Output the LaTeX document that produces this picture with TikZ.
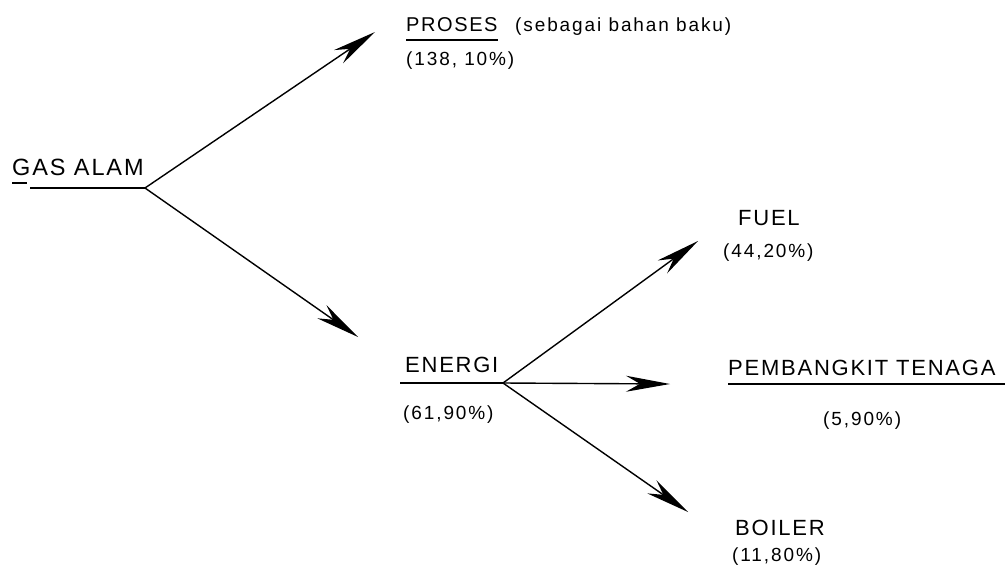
\documentclass[tikz,border=0pt]{standalone}
\usepackage{fontspec}
\usetikzlibrary{arrows.meta}
\newfontfamily\labA[LetterSpace=8]{Liberation Sans}
\newfontfamily\labB[LetterSpace=10]{Liberation Sans}
\begin{document}
\begin{tikzpicture}[x=1pt,y=-1pt,
  caplab/.style={anchor=base west,inner sep=0pt,font=\labA\fontsize{22}{24}\selectfont},
  capsmall/.style={anchor=base west,inner sep=0pt,font=\labA\fontsize{20}{22}\selectfont},
  numlab/.style={anchor=base west,inner sep=0pt,font=\labB\fontsize{19}{21}\selectfont},
  uline/.style={line width=1.5pt},
  flow/.style={line width=1.4pt,-{Stealth[length=44pt,width=16pt,inset=14pt]}}]
\useasboundingbox (0,0) rectangle (1008,567);
% texts
\node[caplab,font=\labA\fontsize{23.5}{25}\selectfont] (gas) at (12,175) {GAS ALAM};
\node[capsmall] (proses) at (406,32) {PROSES};
\node[numlab] (bahan) at (515,32) {(sebagai bahan baku)};
\node[numlab] (prosesv) at (406,66) {(138, 10\%)};
\node[caplab] (energi) at (405,372) {ENERGI};
\node[numlab] (energiv) at (403,419) {(61,90\%)};
\node[caplab] (fuel) at (738,225) {FUEL};
\node[numlab] (fuelv) at (723,257) {(44,20\%)};
\node[caplab] (pemb) at (728,375) {PEMBANGKIT TENAGA};
\node[numlab] (pembv) at (823,425) {(5,90\%)};
\node[caplab] (boiler) at (735,535) {BOILER};
\node[numlab] (boilerv) at (732,561) {(11,80\%)};
% branch points and arrow tips
\coordinate (gasB) at (145,188);
\coordinate (enB) at (503,383);
\coordinate (tProses) at (375,32);
\coordinate (tEnergi) at (358,337);
\coordinate (tFuel) at (698,241);
\coordinate (tPemb) at (670,384);
\coordinate (tBoiler) at (688,512);
% underlines
\draw[uline] (12,183) -- (27,183);
\draw[uline] (30,188) -- (gasB);
\draw[uline] (406,40) -- (498,40);
\draw[uline] (400,383) -- (enB);
\draw[uline] (728,384) -- (1005,384);
% connectors
\draw[flow] (gasB) -- (tProses);
\draw[flow] (gasB) -- (tEnergi);
\draw[flow] (enB) -- (tFuel);
\draw[flow] (enB) -- (tPemb);
\draw[flow] (enB) -- (tBoiler);
\end{tikzpicture}
\end{document}
